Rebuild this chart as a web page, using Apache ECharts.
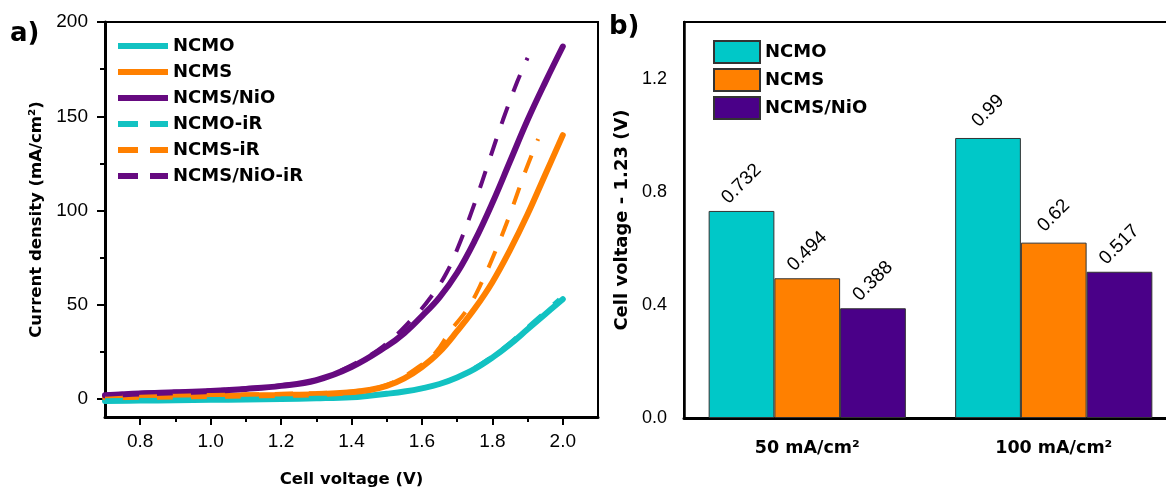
<!DOCTYPE html>
<html><head><meta charset="utf-8">
<script src="https://cdn.jsdelivr.net/npm/echarts@6/dist/echarts.min.js"></script>
<style>html,body{margin:0;padding:0;background:#fff;overflow:hidden}#c{width:1180px;height:493px}</style>
</head><body><div id="c"></div>
<script>
// ---- panel a: polarization curves ----
const ncmoV   = [0.70,0.80,0.90,1.00,1.10,1.20,1.30,1.40,1.45,1.50,1.55,1.60,1.65,1.70,1.75,1.80,1.85,1.90,1.95,2.00];
const ncmoJ   = [-1.0,-0.8,-0.6,-0.4,-0.2,0.0,0.4,1.0,1.8,2.8,4.0,5.7,8.0,11.5,16,22,29,37,45,53];
const ncmsV   = [0.70,0.80,0.90,1.00,1.10,1.20,1.30,1.40,1.45,1.50,1.55,1.60,1.65,1.70,1.75,1.80,1.85,1.90,1.95,2.00];
const ncmsJ   = [1.0,1.2,1.4,1.6,1.9,2.2,2.6,3.6,4.8,7,11,17,25,36,48,62,79,98,119,140];
const nioV    = [0.70,0.80,0.90,1.00,1.10,1.20,1.30,1.40,1.50,1.55,1.60,1.65,1.70,1.75,1.80,1.85,1.90,1.95,2.00];
const nioJ    = [2.0,3.0,3.6,4.3,5.4,7.0,10,17,28,35,44,54,67,84,104,126,148,168,187];
const ncmoIrV = [0.70,0.80,0.90,1.00,1.10,1.20,1.30,1.40,1.50,1.60,1.70,1.745,1.795,1.845,1.893,1.942,1.99];
const ncmoIrJ = [-0.6,-0.4,-0.2,0,0.2,0.4,0.7,1.0,2.8,5.7,11.5,16,22,29,37,45,53];
const ncmsIrV = [0.70,0.80,0.90,1.00,1.10,1.20,1.30,1.40,1.50,1.59,1.64,1.68,1.73,1.77,1.81,1.85,1.89,1.93];
const ncmsIrJ = [1.6,1.8,2.0,2.2,2.5,2.8,3.2,4.0,7.5,17,25,36,48,62,79,98,119,138];
const nioIrV  = [0.70,0.80,0.90,1.00,1.10,1.20,1.30,1.39,1.49,1.58,1.625,1.67,1.71,1.75,1.79,1.83,1.87,1.90];
const nioIrJ  = [2.3,3.3,3.9,4.6,5.7,7.3,10.3,17,28,44,54,67,84,104,126,148,168,181];
const xTicksA = [0.8,1.0,1.2,1.4,1.6,1.8,2.0];
const xMinorA = [0.9,1.1,1.3,1.5,1.7,1.9];
const yTicksA = [0,50,100,150,200];
const yMinorA = [25,75,125,175];

// ---- panel b: bars ----
const barCategories = ['50 mA/cm²','100 mA/cm²'];
const barNCMO = [0.732, 0.99];
const barNCMS = [0.494, 0.62];
const barNiO  = [0.388, 0.517];
const yTicksB = [0,0.4,0.8,1.2];
const yMinorB = [0.2,0.6,1.0];

const zip = (a,b) => a.map((v,i)=>[v,b[i]]);
const C_CY='#12C2C2', C_OR='#FF8000', C_PU='#660A80';
const B_CY='#00C8C8', B_OR='#FF8000', B_PU='#4A0088';
const REG='"Liberation Sans", Arial, sans-serif';
const BOLD='"DejaVu Sans", sans-serif';
const DASH_ICON='path://M0,0H20V6H0ZM32,0H50V6H32Z';

function solid(name,data,color){
  return {type:'line',name,data,xAxisIndex:0,yAxisIndex:0,symbol:'none',smooth:0.4,
    color,itemStyle:{color},lineStyle:{color,width:6,cap:'round'},z:2};
}
function dashed(name,data,color){
  return {type:'line',name,data,xAxisIndex:0,yAxisIndex:0,symbol:'none',smooth:0.4,
    color,itemStyle:{color},lineStyle:{color,width:4,type:[18,16]},z:3};
}
function bar(name,data,color){
  return {type:'bar',name,data,xAxisIndex:2,yAxisIndex:2,barGap:'0%',barCategoryGap:'20%',
    itemStyle:{color,borderColor:'#333',borderWidth:1},
    label:{show:true,position:'top',distance:27,rotate:45,align:'center',verticalAlign:'middle',
      fontSize:19,fontFamily:REG,color:'#000'}};
}
const blackLine = w => ({show:true,onZero:false,lineStyle:{color:'#000',width:w}});

const option = {
  animation:false,
  backgroundColor:'#fff',
  grid:[
    {left:105,top:22,width:493,height:396,show:true,borderColor:'#000',borderWidth:2,backgroundColor:'transparent'},
    {left:684,top:22,width:493,height:396,show:true,borderColor:'#000',borderWidth:2,backgroundColor:'transparent'}
  ],
  xAxis:[
    {type:'value',gridIndex:0,min:0.7,max:2.1,position:'bottom',axisLine:blackLine(3),
      axisTick:{customValues:xTicksA,length:8,lineStyle:{color:'#000',width:2}},
      axisLabel:{customValues:xTicksA,formatter:v=>v.toFixed(1),fontSize:19,fontFamily:REG,color:'#000',margin:15},
      splitLine:{show:false},
      name:'Cell voltage (V)',nameLocation:'middle',nameGap:54,
      nameTextStyle:{fontFamily:BOLD,fontWeight:'bold',fontSize:16.5,color:'#000'}},
    {type:'value',gridIndex:0,min:0.7,max:2.1,position:'bottom',axisLine:{show:false,onZero:false},
      axisTick:{customValues:xMinorA,length:5,lineStyle:{color:'#000',width:2}},
      axisLabel:{show:false},splitLine:{show:false}},
    {type:'category',gridIndex:1,data:barCategories,position:'bottom',axisLine:blackLine(3),
      axisTick:{alignWithLabel:true,length:8,lineStyle:{color:'#000',width:3}},
      axisLabel:{fontSize:17.5,fontFamily:BOLD,fontWeight:'bold',color:'#000',margin:21}}
  ],
  yAxis:[
    {type:'value',gridIndex:0,min:-9.5,max:200,position:'left',axisLine:blackLine(3),
      axisTick:{customValues:yTicksA,length:8,lineStyle:{color:'#000',width:2}},
      axisLabel:{customValues:yTicksA,fontSize:19,fontFamily:REG,color:'#000',margin:17},
      splitLine:{show:false},
      name:'Current density (mA/cm²)',nameLocation:'middle',nameGap:60,nameRotate:90,
      nameTextStyle:{fontFamily:BOLD,fontWeight:'bold',fontSize:16.5,color:'#000'}},
    {type:'value',gridIndex:0,min:-9.5,max:200,position:'left',axisLine:{show:false,onZero:false},
      axisTick:{customValues:yMinorA,length:5,lineStyle:{color:'#000',width:2}},
      axisLabel:{show:false},splitLine:{show:false}},
    {type:'value',gridIndex:1,min:0,max:1.4,position:'left',axisLine:blackLine(2.5),
      axisTick:{customValues:yTicksB,length:8,lineStyle:{color:'#000',width:2}},
      axisLabel:{customValues:yTicksB,formatter:v=>v.toFixed(1),fontSize:18,fontFamily:REG,color:'#000',margin:17},
      splitLine:{show:false},
      name:'Cell voltage - 1.23 (V)',nameLocation:'middle',nameGap:53,nameRotate:90,
      nameTextStyle:{fontFamily:BOLD,fontWeight:'bold',fontSize:18,color:'#000'}},
    {type:'value',gridIndex:1,min:0,max:1.4,position:'left',axisLine:{show:false,onZero:false},
      axisTick:{customValues:yMinorB,length:5,lineStyle:{color:'#000',width:2}},
      axisLabel:{show:false},splitLine:{show:false}}
  ],
  legend:[
    {orient:'vertical',left:118,top:37,padding:0,itemWidth:50,itemHeight:6,itemGap:8,selectedMode:false,
      itemStyle:{borderWidth:0},
      textStyle:{fontFamily:BOLD,fontWeight:'bold',fontSize:18,color:'#000'},
      data:[{name:'NCMO',icon:'rect'},{name:'NCMS',icon:'rect'},{name:'NCMS/NiO',icon:'rect'},
            {name:'NCMO-iR',icon:DASH_ICON},{name:'NCMS-iR',icon:DASH_ICON},{name:'NCMS/NiO-iR',icon:DASH_ICON}]},
    {orient:'vertical',left:713,top:40,padding:0,itemWidth:46,itemHeight:22,itemGap:4,selectedMode:false,icon:'rect',
      formatter:n=>n.replace('b:',''),
      textStyle:{fontFamily:BOLD,fontWeight:'bold',fontSize:18,color:'#000'},
      data:['b:NCMO','b:NCMS','b:NCMS/NiO']}
  ],
  graphic:[
    {type:'text',x:10,y:34,style:{text:'a)',font:'bold 26px "DejaVu Sans"',fill:'#000',textVerticalAlign:'middle'}},
    {type:'text',x:609,y:27,style:{text:'b)',font:'bold 26px "DejaVu Sans"',fill:'#000',textVerticalAlign:'middle'}}
  ],
  series:[
    solid('NCMO',zip(ncmoV,ncmoJ),C_CY),
    solid('NCMS',zip(ncmsV,ncmsJ),C_OR),
    solid('NCMS/NiO',zip(nioV,nioJ),C_PU),
    dashed('NCMO-iR',zip(ncmoIrV,ncmoIrJ),C_CY),
    dashed('NCMS-iR',zip(ncmsIrV,ncmsIrJ),C_OR),
    dashed('NCMS/NiO-iR',zip(nioIrV,nioIrJ),C_PU),
    bar('b:NCMO',barNCMO,B_CY),
    bar('b:NCMS',barNCMS,B_OR),
    bar('b:NCMS/NiO',barNiO,B_PU)
  ]
};
echarts.init(document.getElementById('c'),null,{renderer:'canvas'}).setOption(option);
</script></body></html>
